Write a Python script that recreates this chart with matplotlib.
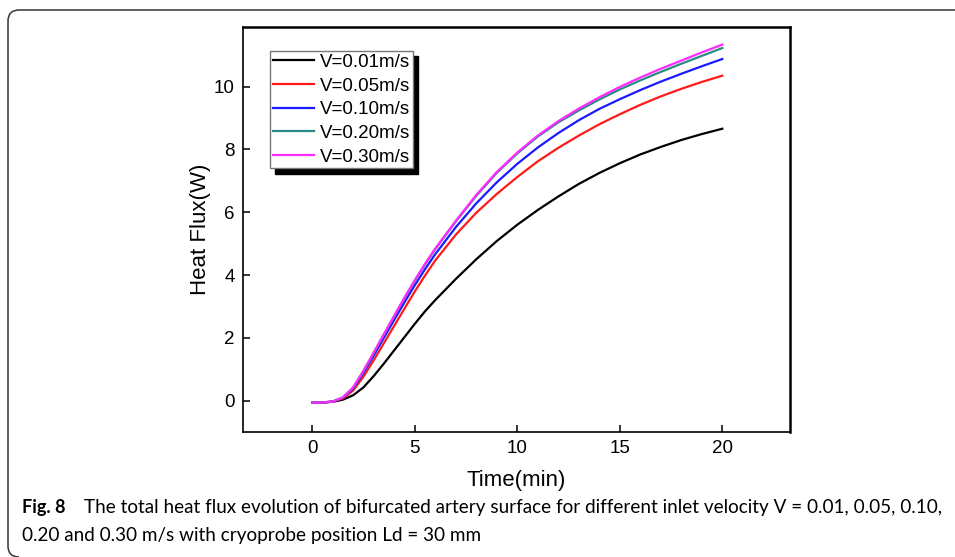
import numpy as np
import matplotlib
matplotlib.use('Agg')
import matplotlib.pyplot as plt
from matplotlib.path import Path
from matplotlib.patches import PathPatch

# time (min) and heat flux (W)
t = [0, 0.5, 1, 1.5, 2, 2.5, 3, 3.5, 4, 4.5, 5, 5.5, 6, 7, 8, 9, 10, 11, 12, 13, 14, 15, 16, 17, 18, 19, 20]

v001 = [-0.06, -0.06, -0.04, 0.03, 0.17, 0.42, 0.78, 1.18, 1.6, 2.02, 2.44, 2.84, 3.2,
        3.87, 4.5, 5.08, 5.6, 6.07, 6.5, 6.9, 7.25, 7.56, 7.84, 8.08, 8.3, 8.49, 8.66]
v005 = [-0.06, -0.06, -0.03, 0.07, 0.32, 0.76, 1.28, 1.83, 2.38, 2.93, 3.47, 3.98, 4.46,
        5.28, 5.98, 6.58, 7.12, 7.62, 8.05, 8.44, 8.8, 9.12, 9.42, 9.69, 9.93, 10.15, 10.35]
v010 = [-0.06, -0.06, -0.03, 0.09, 0.38, 0.88, 1.43, 2.0, 2.57, 3.13, 3.67, 4.18, 4.66,
        5.52, 6.28, 6.95, 7.54, 8.06, 8.52, 8.93, 9.29, 9.6, 9.89, 10.16, 10.41, 10.65, 10.88]
v020 = [-0.06, -0.06, -0.03, 0.1, 0.41, 0.93, 1.51, 2.1, 2.68, 3.26, 3.81, 4.33, 4.82,
        5.7, 6.52, 7.25, 7.87, 8.41, 8.86, 9.24, 9.59, 9.91, 10.2, 10.47, 10.73, 10.98, 11.23]
v030 = [-0.06, -0.06, -0.03, 0.1, 0.42, 0.95, 1.53, 2.12, 2.7, 3.28, 3.83, 4.35, 4.84,
        5.72, 6.55, 7.28, 7.9, 8.44, 8.9, 9.3, 9.66, 9.99, 10.29, 10.57, 10.83, 11.09, 11.34]

labels = ['V=0.01m/s', 'V=0.05m/s', 'V=0.10m/s', 'V=0.20m/s', 'V=0.30m/s']
colors = ['#000000', '#ff1a1a', '#1a1aff', '#2a8a86', '#ff2aff']

caption_bold = 'Fig. 8'
caption_1 = 'The total heat flux evolution of bifurcated artery surface for different inlet velocity V = 0.01, 0.05, 0.10,'
caption_2 = '0.20 and 0.30 m/s with cryoprobe position Ld = 30 mm'

plt.rcParams['font.family'] = ['Liberation Sans', 'DejaVu Sans']

fig = plt.figure(figsize=(9.55, 5.57), dpi=100)
W, H = 955, 557

# open rounded frame: top edge and left edge, running off the page
px = lambda x, y: (x / W, 1 - y / H)
verts = [px(960, 10), px(19, 10), px(8, 10), px(8, 21),
         px(8, 546), px(8, 557), px(19, 557)]
codes = [Path.MOVETO, Path.LINETO, Path.CURVE3, Path.CURVE3,
         Path.LINETO, Path.CURVE3, Path.CURVE3]
fig.add_artist(PathPatch(Path(verts, codes), transform=fig.transFigure,
                         fill=False, edgecolor='#333333', linewidth=1.1))

ax = fig.add_axes([243 / W, 1 - 432 / H, 547 / W, 405 / H])
for ys, lab, c in zip([v001, v005, v010, v020, v030], labels, colors):
    ax.plot(t, ys, color=c, lw=1.6, label=lab)

ax.set_xlim(-3.37, 23.3)
ax.set_ylim(-1.0, 11.9)
ax.set_xticks([0, 5, 10, 15, 20])
ax.set_yticks([0, 2, 4, 6, 8, 10])
ax.tick_params(direction='in', length=5, width=1.1, labelsize=13.5, pad=6)
for s in ax.spines.values():
    s.set_linewidth(1.2)
ax.spines['top'].set_linewidth(1.8)
ax.spines['right'].set_linewidth(1.8)
ax.set_xlabel('Time(min)', fontsize=16, labelpad=9)
ax.set_ylabel('Heat Flux(W)', fontsize=16, labelpad=2)

leg = ax.legend(loc='upper left', bbox_to_anchor=(0.049, 0.941), borderaxespad=0,
                fontsize=13.5, frameon=True, fancybox=False, edgecolor='#777777',
                handlelength=2.2, handletextpad=0.3, labelspacing=0.35,
                borderpad=0.15,
                shadow={'ox': 4, 'oy': -4, 'color': 'black', 'alpha': 1})
leg.get_frame().set_linewidth(1.0)

# caption
cap_font = ['Lato', 'DejaVu Sans']
fig.text(22 / W, 1 - 508 / H, caption_bold, fontsize=13, weight='bold',
         family=cap_font, va='center', ha='left')
t1 = fig.text(84 / W, 1 - 508 / H, caption_1, fontsize=13,
              family=cap_font, va='center', ha='left')
t2 = fig.text(22 / W, 1 - 536 / H, caption_2, fontsize=13,
              family=cap_font, va='center', ha='left')
fig.canvas.draw()
w1 = t1.get_window_extent().width
size = 13 * 856 / w1
t1.set_fontsize(size)
t2.set_fontsize(size)

fig.savefig('out.png', dpi=100)
